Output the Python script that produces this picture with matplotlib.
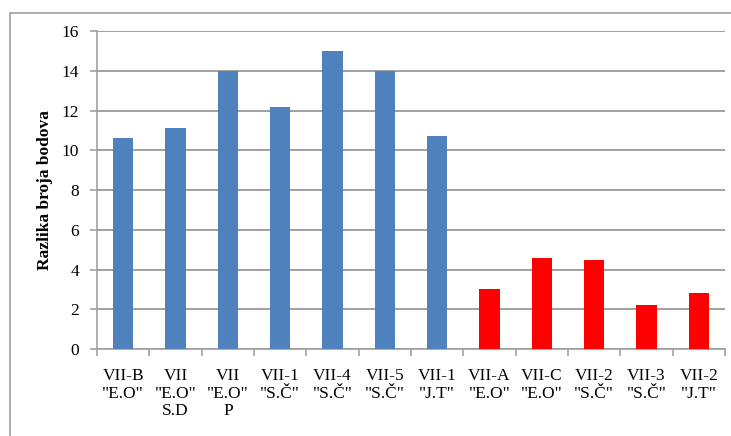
import matplotlib
matplotlib.use("Agg")
import matplotlib.pyplot as plt
from matplotlib.patches import Rectangle
import numpy as np

categories = ['VII-B\n"E.O"', 'VII\n"E.O"\nS.D', 'VII\n"E.O"\nP', 'VII-1\n"S.Č"',
              'VII-4\n"S.Č"', 'VII-5\n"S.Č"', 'VII-1\n"J.T"', 'VII-A\n"E.O"',
              'VII-C\n"E.O"', 'VII-2\n"S.Č"', 'VII-3\n"S.Č"', 'VII-2\n"J.T"']
values = [10.6, 11.1, 14.0, 12.2, 15.0, 14.0, 10.7, 3.0, 4.6, 4.5, 2.2, 2.8]
groups = ['blue'] * 7 + ['red'] * 5
color_map = {'blue': '#4F81BD', 'red': '#FF0000'}
y_label = 'Razlika broja bodova'
y_ticks = [0, 2, 4, 6, 8, 10, 12, 14, 16]

plt.rcParams['font.family'] = ['Liberation Serif', 'DejaVu Serif']

fig = plt.figure(figsize=(7.31, 4.36), dpi=100)
fig.patch.set_facecolor('white')
# outer chart frame
fig.patches.append(Rectangle((10/731, -0.05), 1.0, 0.97 + 0.05, transform=fig.transFigure,
                             fill=False, edgecolor='#A6A6A6', linewidth=1.3))

ax = fig.add_axes([97/731, 87/436, 628/731, 318/436])
x = np.arange(len(categories))
ax.bar(x, values, width=0.39, color=[color_map[g] for g in groups], zorder=3)

ax.set_xlim(-0.5, len(categories) - 0.5)
ax.set_ylim(0, 16)
ax.set_yticks(y_ticks)
ax.set_yticklabels([str(t) for t in y_ticks], fontsize=12.5)
ax.yaxis.grid(True, color='#A0A0A0', linewidth=1.4, zorder=0)
ax.set_axisbelow(True)

ax.set_xticks(x)
ax.set_xticklabels(categories, fontsize=12.5, linespacing=1.12, va='top')
ax.set_xticks(np.arange(-0.5, len(categories)), minor=True)
ax.tick_params(axis='x', which='major', length=0, pad=14)
ax.tick_params(axis='x', which='minor', length=5, color='#A0A0A0', width=1.2)
ax.tick_params(axis='y', length=5, color='#A0A0A0', width=1.2, pad=8)

for s in ['top', 'right']:
    ax.spines[s].set_visible(False)
for s in ['left', 'bottom']:
    ax.spines[s].set_color('#A0A0A0')
    ax.spines[s].set_linewidth(1.2)

ax.set_ylabel(y_label, fontsize=12.5, fontweight='bold', labelpad=6)

fig.savefig('out.png', dpi=100)
